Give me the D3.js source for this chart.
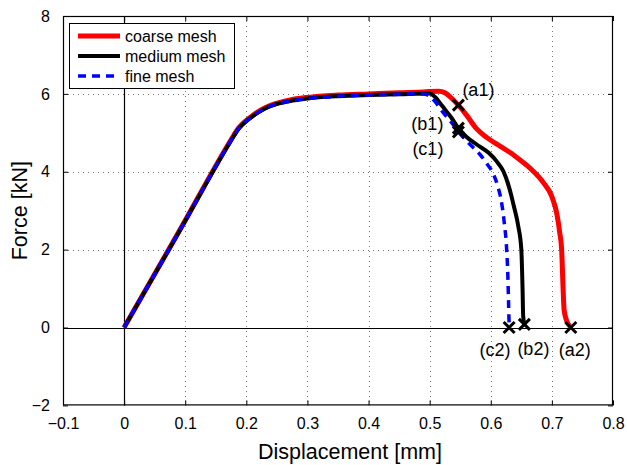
<!DOCTYPE html>
<html>
<head>
<meta charset="utf-8">
<script src="https://cdn.jsdelivr.net/npm/d3@7"></script>
<style>
  html, body { margin: 0; padding: 0; background: #fff; }
  svg text { font-family: "Liberation Sans", Arial, Helvetica, sans-serif; fill: #000; }
</style>
</head>
<body>
<svg id="chart" width="627" height="465"></svg>
<script>
// Force–displacement response for three mesh refinements, [displacement mm, force kN]
const coarseMesh = [
  [0, 0], [0.09, 2.47], [0.18, 4.95], [0.186, 5.1], [0.193, 5.22], [0.2, 5.32], [0.21, 5.44],
  [0.217, 5.52], [0.23, 5.64], [0.244, 5.73], [0.27, 5.84], [0.3, 5.91], [0.35, 5.97],
  [0.4, 6.0], [0.45, 6.03], [0.49, 6.05], [0.515, 6.07], [0.525, 6.03], [0.535, 5.9],
  [0.547, 5.71], [0.56, 5.46], [0.577, 5.1], [0.59, 4.92], [0.6, 4.81], [0.615, 4.66],
  [0.631, 4.5], [0.648, 4.3], [0.66, 4.15], [0.669, 4.02], [0.686, 3.72], [0.7, 3.36],
  [0.708, 2.93], [0.713, 2.42], [0.716, 1.99], [0.718, 1.14], [0.72, 0.45],
  [0.724, 0.18], [0.73, 0.02]
];
const mediumMesh = [
  [0, 0], [0.09, 2.46], [0.18, 4.93], [0.186, 5.08], [0.193, 5.2], [0.2, 5.3], [0.21, 5.42],
  [0.217, 5.5], [0.23, 5.62], [0.244, 5.71], [0.27, 5.81], [0.3, 5.88], [0.35, 5.94],
  [0.4, 5.97], [0.45, 5.99], [0.5, 6.01], [0.51, 5.9], [0.52, 5.7], [0.535, 5.4],
  [0.547, 5.12], [0.56, 4.9], [0.577, 4.7], [0.597, 4.48], [0.61, 4.26], [0.621, 4.0],
  [0.63, 3.6], [0.638, 3.1], [0.645, 2.6], [0.65, 2.0], [0.652, 1.0], [0.653, 0.3],
  [0.655, 0.08]
];
const fineMesh = [
  [0, 0], [0.09, 2.46], [0.18, 4.93], [0.186, 5.08], [0.193, 5.2], [0.2, 5.3], [0.21, 5.42],
  [0.217, 5.5], [0.23, 5.62], [0.244, 5.71], [0.27, 5.81], [0.3, 5.88], [0.35, 5.94],
  [0.4, 5.97], [0.45, 5.99], [0.49, 6.0], [0.5, 5.94], [0.51, 5.78], [0.52, 5.56],
  [0.535, 5.28], [0.547, 5.03], [0.56, 4.8], [0.57, 4.64], [0.582, 4.45], [0.594, 4.2],
  [0.604, 3.95], [0.612, 3.6], [0.617, 3.27], [0.622, 2.7], [0.626, 2.0], [0.628, 1.3],
  [0.629, 0.7], [0.6298, 0.2], [0.6305, 0]
];

const seriesNames = ["coarse mesh", "medium mesh", "fine mesh"];
const markerLabels = ["(a1)", "(b1)", "(c1)", "(a2)", "(b2)", "(c2)"];
const markerDisp = [0.547, 0.547, 0.547, 0.731, 0.655, 0.63];
const markerForce = [5.71, 5.12, 5.02, 0, 0.08, 0];

const xTicks = [-0.1, 0, 0.1, 0.2, 0.3, 0.4, 0.5, 0.6, 0.7, 0.8];
const yTicks = [-2, 0, 2, 4, 6, 8];

(function draw() {
  // Plot area
  const pL = 63, pR = 613, pT = 16, pB = 405.4;
  const svg = d3.select("#chart");

  const x = d3.scaleLinear().domain([-0.1, 0.8]).range([pL, pR]);
  const y = d3.scaleLinear().domain([-2, 8]).range([pB, pT]);

  const fontTick = 16;

  // Dotted grid at major ticks
  const grid = svg.append("g").attr("stroke", "#777").attr("stroke-width", 1)
    .attr("stroke-dasharray", "1,4");
  grid.selectAll("line.gx").data(xTicks.slice(1, -1)).join("line")
    .attr("x1", d => Math.round(x(d)) + 0.5).attr("x2", d => Math.round(x(d)) + 0.5)
    .attr("y1", pT).attr("y2", pB);
  grid.selectAll("line.gy").data(yTicks.slice(1, -1)).join("line")
    .attr("y1", d => Math.round(y(d)) + 0.5).attr("y2", d => Math.round(y(d)) + 0.5)
    .attr("x1", pL).attr("x2", pR);

  // Zero reference lines
  svg.append("line").attr("x1", Math.round(x(0)) + 0.5).attr("x2", Math.round(x(0)) + 0.5)
    .attr("y1", pT).attr("y2", pB).attr("stroke", "#000").attr("stroke-width", 1.2);
  svg.append("line").attr("y1", Math.round(y(0)) + 0.5).attr("y2", Math.round(y(0)) + 0.5)
    .attr("x1", pL).attr("x2", pR).attr("stroke", "#000").attr("stroke-width", 1.2);

  // Axes with inward ticks on all four sides
  function styleAxis(g) {
    g.select(".domain").remove();
    g.selectAll(".tick line").attr("stroke", "#000");
    g.selectAll(".tick text").attr("font-size", fontTick)
      .attr("font-family", '"Liberation Sans", Arial, sans-serif');
  }
  svg.append("g").attr("transform", `translate(0,${pB})`)
    .call(d3.axisBottom(x).tickValues(xTicks).tickSizeInner(-5).tickSizeOuter(0)
      .tickPadding(12).tickFormat(d3.format("")))
    .call(styleAxis);
  svg.append("g").attr("transform", `translate(0,${pT})`)
    .call(d3.axisTop(x).tickValues(xTicks).tickSizeInner(-5).tickSizeOuter(0).tickFormat(""))
    .call(styleAxis);
  svg.append("g").attr("transform", `translate(${pL},0)`)
    .call(d3.axisLeft(y).tickValues(yTicks).tickSizeInner(-5).tickSizeOuter(0)
      .tickPadding(13).tickFormat(d3.format("")))
    .call(styleAxis);
  svg.append("g").attr("transform", `translate(${pR},0)`)
    .call(d3.axisRight(y).tickValues(yTicks).tickSizeInner(-5).tickSizeOuter(0).tickFormat(""))
    .call(styleAxis);

  // Plot box
  svg.append("rect").attr("x", pL + 0.5).attr("y", pT + 0.5)
    .attr("width", pR - pL - 1).attr("height", pB - pT - 1)
    .attr("fill", "none").attr("stroke", "#000").attr("stroke-width", 1.2);

  // Curves
  const line = d3.line().x(d => x(d[0])).y(d => y(d[1])).curve(d3.curveMonotoneX);
  const styles = [
    { data: coarseMesh, color: "#ff0000", width: 5, dash: null },
    { data: mediumMesh, color: "#000000", width: 4, dash: null },
    { data: fineMesh, color: "#0000ff", width: 3.5, dash: "8,6" }
  ];
  styles.forEach(s => {
    svg.append("path").datum(s.data).attr("d", line)
      .attr("fill", "none").attr("stroke", s.color).attr("stroke-width", s.width)
      .attr("stroke-linejoin", "round")
      .attr("stroke-dasharray", s.dash);
  });

  // Failure markers
  const markers = markerLabels.map((l, i) => ({ label: l, d: markerDisp[i], f: markerForce[i] }));
  svg.append("g").selectAll("path").data(markers).join("path")
    .attr("transform", d => `translate(${x(d.d)},${y(d.f)})`)
    .attr("d", "M-5.5,-5.5L5.5,5.5M-5.5,5.5L5.5,-5.5")
    .attr("stroke", "#000").attr("stroke-width", 3).attr("fill", "none");

  // Marker label offsets (dx, dy, anchor)
  const labelOffset = {
    "(a1)": [4, -15, "start"],
    "(b1)": [-15, -4, "end"],
    "(c1)": [-15, 17, "end"],
    "(a2)": [4, 22, "middle"],
    "(b2)": [9, 25, "middle"],
    "(c2)": [-14, 22, "middle"]
  };
  svg.append("g").selectAll("text").data(markers).join("text")
    .attr("x", d => x(d.d) + labelOffset[d.label][0])
    .attr("y", d => y(d.f) + labelOffset[d.label][1])
    .attr("text-anchor", d => labelOffset[d.label][2])
    .attr("dominant-baseline", "central")
    .attr("font-size", 18)
    .text(d => d.label);

  // Legend
  const lg = svg.append("g");
  lg.append("rect").attr("x", 69.5).attr("y", 23.5).attr("width", 165).attr("height", 65)
    .attr("fill", "#fff").attr("stroke", "#000").attr("stroke-width", 1);
  seriesNames.forEach((name, i) => {
    const yy = 36 + i * 20;
    lg.append("line").attr("x1", 78).attr("x2", 120).attr("y1", yy).attr("y2", yy)
      .attr("stroke", styles[i].color).attr("stroke-width", styles[i].width)
      .attr("stroke-dasharray", styles[i].dash);
    lg.append("text").attr("x", 125).attr("y", yy).attr("dominant-baseline", "central")
      .attr("font-size", 16).text(name);
  });

  // Axis titles
  svg.append("text").attr("x", 350).attr("y", 452)
    .attr("text-anchor", "middle").attr("dominant-baseline", "central")
    .attr("font-size", 21.5).text("Displacement [mm]");
  svg.append("text")
    .attr("transform", `translate(20,${(pT + pB) / 2}) rotate(-90)`)
    .attr("text-anchor", "middle").attr("dominant-baseline", "central")
    .attr("font-size", 21.5).text("Force [kN]");
})();
</script>
</body>
</html>
